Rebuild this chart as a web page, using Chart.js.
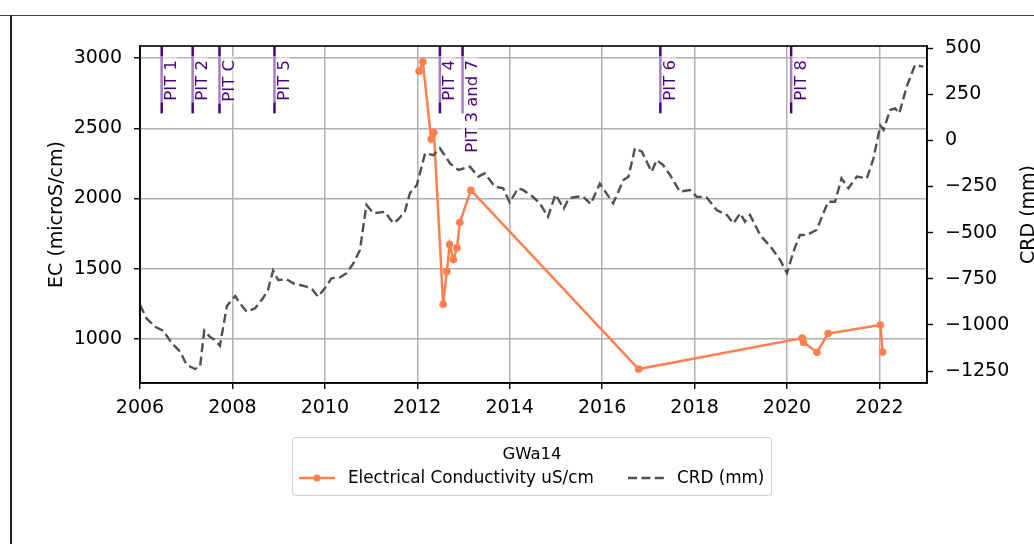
<!DOCTYPE html>
<html>
<head>
<meta charset="utf-8">
<script src="https://cdn.jsdelivr.net/npm/chart.js@4"></script>
<style>
  body { margin: 0; background: #fff; font-family: "DejaVu Sans", sans-serif; }
  #wrap { position: relative; width: 1034px; height: 544px; overflow: hidden; }
  #c { position: absolute; left: 0; top: 0; }
  .frameTop { position: absolute; left: 0; top: 15px; width: 1034px; height: 1px; background: #444; }
  .frameLeft { position: absolute; left: 10px; top: 15px; width: 2px; height: 529px; background: #222; }
  #legend { position: absolute; left: 292px; top: 437px; width: 480px; height: 59px;
    border: 1px solid #d0d0d0; border-radius: 4px; box-sizing: border-box; color: #000; }
  #legend .ttl { position: absolute; left: 0; right: 0; top: 6px; text-align: center; font-size: 16.5px; }
  #legend .item { position: absolute; top: 29px; font-size: 16.8px; white-space: nowrap; }
  #legend svg { vertical-align: middle; margin-right: 13px; }
</style>
</head>
<body>
<div id="wrap">
  <canvas id="c" width="1034" height="544"></canvas>
  <div class="frameTop"></div>
  <div class="frameLeft"></div>
  <div id="legend">
    <div class="ttl">GWa14</div>
    <div class="item" style="left:6px">
      <svg width="36" height="10"><line x1="0" y1="5" x2="36" y2="5" stroke="#ff7f50" stroke-width="2.5"/><circle cx="18" cy="5" r="3.5" fill="#ff7f50"/></svg>Electrical Conductivity uS/cm
    </div>
    <div class="item" style="left:335px">
      <svg width="36" height="10"><line x1="0" y1="5" x2="36" y2="5" stroke="#505050" stroke-width="2.4" stroke-dasharray="9,4.4"/></svg>CRD (mm)
    </div>
  </div>
</div>
<script>
// EC samples (decimal year, uS/cm)
const ecYears = [2012.04, 2012.12, 2012.30, 2012.36, 2012.56, 2012.64, 2012.70, 2012.78, 2012.86, 2012.92, 2013.16,
  2016.79, 2020.33, 2020.36, 2020.65, 2020.89, 2022.02, 2022.07]
const ecValues = [2907, 2974, 2423, 2470, 1247, 1480, 1672, 1565, 1648, 1829, 2059,
  785, 1006, 974, 905, 1038, 1099, 907]

// CRD (mm)
const crdYears = [2006.00, 2006.14, 2006.32, 2006.50, 2006.69, 2006.87, 2007.01, 2007.19, 2007.30, 2007.39, 2007.51,
  2007.62, 2007.73, 2007.88, 2008.06, 2008.16, 2008.31, 2008.49, 2008.66, 2008.77, 2008.88, 2008.99, 2009.17,
  2009.32, 2009.46, 2009.60, 2009.74, 2009.85, 2010.04, 2010.14, 2010.33, 2010.47, 2010.62, 2010.76, 2010.90,
  2011.05, 2011.30, 2011.48, 2011.59, 2011.73, 2011.84, 2011.99, 2012.17, 2012.35, 2012.49, 2012.71, 2012.89,
  2013.14, 2013.32, 2013.46, 2013.68, 2013.86, 2014.00, 2014.18, 2014.29, 2014.50, 2014.65, 2014.83, 2014.99,
  2015.17, 2015.28, 2015.45, 2015.59, 2015.75, 2015.95, 2016.24, 2016.46, 2016.57, 2016.71, 2016.86, 2017.07,
  2017.18, 2017.32, 2017.47, 2017.68, 2017.90, 2018.05, 2018.26, 2018.48, 2018.70, 2018.84, 2018.99, 2019.09,
  2019.20, 2019.42, 2019.67, 2019.85, 2020.00, 2020.14, 2020.28, 2020.43, 2020.64, 2020.78, 2020.89, 2021.04,
  2021.18, 2021.33, 2021.51, 2021.73, 2021.87, 2022.02, 2022.09, 2022.23, 2022.34, 2022.43, 2022.59, 2022.77, 2022.95]
const crdValues = [-892, -964, -1010, -1031, -1100, -1145, -1217, -1239, -1226, -1031, -1064,
  -1082, -1113, -898, -844, -883, -929, -910, -856, -811, -706, -757, -753,
  -775, -784, -793, -811, -847, -789, -748, -742, -720, -666, -594, -350,
  -395, -387, -450, -428, -387, -287, -242, -70, -80, -43, -125, -161,
  -143, -197, -179, -251, -260, -337, -260, -269, -306, -341, -414, -294,
  -370, -314, -306, -306, -345, -235, -341, -215, -197, -43, -62, -170,
  -107, -134, -188, -278, -269, -306, -309, -378, -405, -450, -396, -441,
  -405, -513, -585, -648, -720, -603, -513, -513, -486, -400, -333, -333,
  -206, -260, -197, -206, -100, 80, 56, 164, 173, 146, 290, 408, 399]

// tick labels
const yearTicks = [2006, 2008, 2010, 2012, 2014, 2016, 2018, 2020, 2022]
const ecTicks = [1000, 1500, 2000, 2500, 3000]
const crdTicks = [-1250, -1000, -750, -500, -250, 0, 250, 500]

// pit events
const pitYears = [2006.47, 2007.14, 2007.72, 2008.91, 2012.49, 2012.98, 2017.26, 2020.09]
const pitLabels = ["PIT 1", "PIT 2", "PIT C", "PIT 5", "PIT 4", "PIT 3 and 7", "PIT 6", "PIT 8"]

const FONT = "DejaVu Sans"
Chart.defaults.font.family = FONT
Chart.defaults.color = "#000"

const minusFmt = v => String(v).replace("-", "\u2212")
const setTicks = list => s => { s.ticks = list.map(v => ({ value: v })) }

const pitPlugin = {
    id: "pits",
    afterDatasetsDraw(chart) {
        const { ctx, chartArea } = chart
        const xs = chart.scales.x
        const h = chartArea.bottom - chartArea.top
        ctx.save()
        pitYears.forEach((yr, i) => {
            const x = xs.getPixelForValue(yr)
            ctx.strokeStyle = "#4b0082"
            ctx.lineWidth = 2.5
            ctx.beginPath()
            ctx.moveTo(x, chartArea.top)
            ctx.lineTo(x, chartArea.top + 0.2 * h)
            ctx.stroke()
            ctx.font = "16.5px " + FONT
            const w = ctx.measureText(pitLabels[i]).width
            // faint white box behind label
            ctx.fillStyle = "rgba(255,255,255,0.5)"
            ctx.fillRect(x - 1.5, 56, 17, w + 6)
            ctx.fillStyle = "#4b0082"
            ctx.translate(x + 14.5, 60)
            ctx.rotate(-Math.PI / 2)
            ctx.textAlign = "right"
            ctx.textBaseline = "alphabetic"
            ctx.fillText(pitLabels[i], 0, 0)
            ctx.setTransform(1, 0, 0, 1, 0, 0)
        })
        ctx.restore()
    }
}

const framePlugin = {
    id: "frame",
    afterDraw(chart) {
        const { ctx, chartArea } = chart
        ctx.save()
        ctx.strokeStyle = "#000"
        ctx.lineWidth = 1.6
        ctx.strokeRect(chartArea.left, chartArea.top, chartArea.right - chartArea.left, chartArea.bottom - chartArea.top)
        // right axis title, reads bottom to top like the left one
        ctx.fillStyle = "#000"
        ctx.font = "19px " + FONT
        ctx.translate(1034, (chartArea.top + chartArea.bottom) / 2)
        ctx.rotate(-Math.PI / 2)
        ctx.textAlign = "center"
        ctx.textBaseline = "alphabetic"
        ctx.fillText("CRD (mm)", 0, 0)
        ctx.restore()
    }
}

const tickFont = { size: 19 }
const grid = { color: "#b0b0b0", lineWidth: 1.5, tickColor: "#000", tickLength: 6, tickWidth: 1.4 }

new Chart(document.getElementById("c"), {
    type: "line",
    data: {
        datasets: [
            {
                label: "Electrical Conductivity uS/cm",
                data: ecYears.map((x, i) => ({ x, y: ecValues[i] })),
                yAxisID: "y",
                borderColor: "#ff7f50",
                backgroundColor: "#ff7f50",
                borderWidth: 2.5,
                pointRadius: 3.8,
                pointBorderWidth: 0,
                order: 1
            },
            {
                label: "CRD (mm)",
                data: crdYears.map((x, i) => ({ x, y: crdValues[i] })),
                yAxisID: "y2",
                borderColor: "#505050",
                borderWidth: 2.4,
                borderDash: [9, 4.4],
                pointRadius: 0,
                order: 0
            }
        ]
    },
    options: {
        responsive: false,
        animation: false,
        devicePixelRatio: 1,
        layout: { padding: { left: 0, right: 0, top: 46, bottom: 111 } },
        plugins: { legend: { display: false }, tooltip: { enabled: false } },
        scales: {
            x: {
                type: "linear",
                position: "bottom",
                min: 2006,
                max: 2023.03,
                afterBuildTicks: setTicks(yearTicks),
                ticks: { font: tickFont, padding: 8, maxRotation: 0, autoSkip: false, callback: v => String(v) },
                grid: grid,
                border: { color: "#000", width: 1.6 },
                afterFit: s => { s.height = 50 }
            },
            y: {
                position: "left",
                min: 686,
                max: 3086,
                afterBuildTicks: setTicks(ecTicks),
                ticks: { font: tickFont, padding: 12, callback: minusFmt },
                grid: grid,
                border: { color: "#000", width: 1.6 },
                title: { display: true, text: "EC (microS/cm)", font: { size: 19 }, padding: { top: 46, bottom: 0 } },
                afterFit: s => { s.width = 140 }
            },
            y2: {
                position: "right",
                min: -1315,
                max: 511,
                afterBuildTicks: setTicks(crdTicks),
                ticks: { font: tickFont, padding: 12, callback: minusFmt },
                grid: { drawOnChartArea: false, tickColor: "#000", tickLength: 6, tickWidth: 1.4 },
                border: { color: "#000", width: 1.6 },
                afterFit: s => { s.width = 107 }
            }
        }
    },
    plugins: [pitPlugin, framePlugin]
})
</script>
</body>
</html>
